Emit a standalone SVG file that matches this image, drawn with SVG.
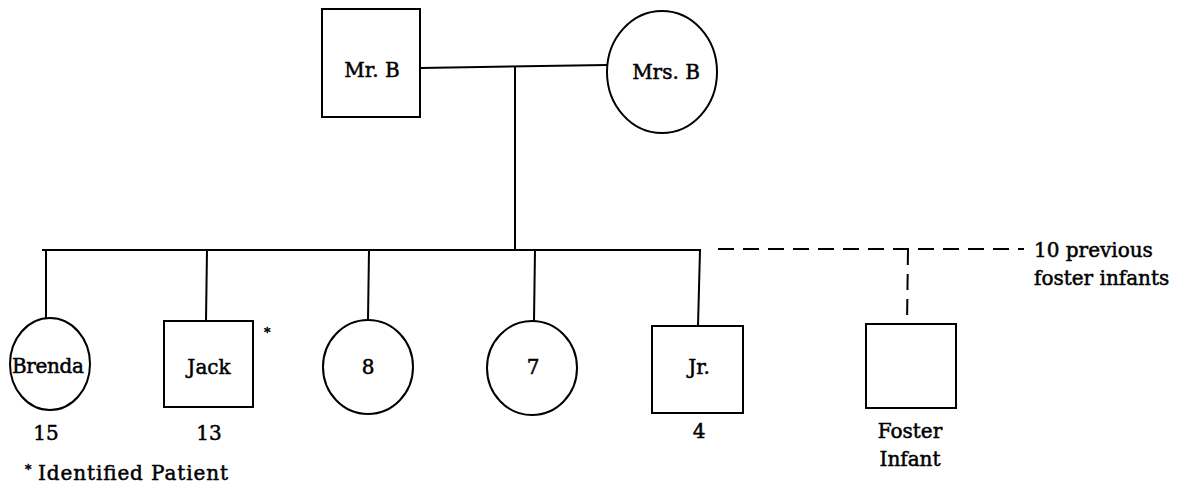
<svg xmlns="http://www.w3.org/2000/svg" width="1178" height="491" viewBox="0 0 1178 491">
<style>
.shape{fill:#fff;stroke:#000;stroke-width:2}
.ln{fill:none;stroke:#000;stroke-width:2}
.dash{fill:none;stroke:#000;stroke-width:2;stroke-dasharray:16 9}
text{font-family:"DejaVu Serif","Liberation Serif",serif;font-size:20px;fill:#000;stroke:#000;stroke-width:0.5}
.c{text-anchor:middle}
.sup{font-size:13px}
</style>
<rect width="1178" height="491" fill="#fff"/>
<g id="connectors">
<line class="ln" x1="421" y1="68" x2="607" y2="65"/>
<line class="ln" x1="515" y1="67" x2="515" y2="250"/>
<line class="ln" x1="42" y1="250" x2="701" y2="250"/>
<line class="ln" x1="46" y1="250" x2="46" y2="318"/>
<line class="ln" x1="207" y1="250" x2="206" y2="321"/>
<line class="ln" x1="369" y1="250" x2="368" y2="320"/>
<line class="ln" x1="535" y1="250" x2="534" y2="321"/>
<line class="ln" x1="700" y1="250" x2="698" y2="326"/>
<line class="dash" x1="718" y1="249" x2="1024" y2="249"/>
<line class="dash" x1="908" y1="249" x2="907" y2="324"/>
</g>
<g id="mr-b">
<rect class="shape" x="322" y="9" width="98" height="108"/>
<text class="c" x="372" y="77">Mr. B</text>
</g>
<g id="mrs-b">
<ellipse class="shape" cx="662" cy="72" rx="55" ry="61"/>
<text class="c" x="666" y="79">Mrs. B</text>
</g>
<g id="brenda">
<ellipse class="shape" cx="50" cy="364" rx="40" ry="46"/>
<text class="c" x="48" y="373" textLength="72">Brenda</text>
<text class="c" x="46" y="440">15</text>
</g>
<g id="jack">
<rect class="shape" x="164" y="321" width="89" height="86"/>
<text class="c" x="209" y="374">Jack</text>
<text class="c" x="209" y="440">13</text>
<text class="sup" x="264" y="337">*</text>
</g>
<g id="child-8">
<ellipse class="shape" cx="368" cy="367" rx="45" ry="47"/>
<text class="c" x="368" y="374">8</text>
</g>
<g id="child-7">
<ellipse class="shape" cx="532" cy="368" rx="45" ry="47"/>
<text class="c" x="533" y="374">7</text>
</g>
<g id="jr">
<rect class="shape" x="652" y="326" width="91" height="87"/>
<text class="c" x="699" y="374">Jr.</text>
<text class="c" x="699" y="438">4</text>
</g>
<g id="foster-infant">
<rect class="shape" x="866" y="324" width="90" height="84"/>
<text class="c" x="910" y="438">Foster</text>
<text class="c" x="910" y="466">Infant</text>
</g>
<g id="previous-foster">
<text x="1034" y="257">10 previous</text>
<text x="1034" y="285">foster infants</text>
</g>
<g id="legend">
<text class="sup" x="25" y="474">*</text>
<text x="38" y="480" textLength="190">Identified Patient</text>
</g>
</svg>
